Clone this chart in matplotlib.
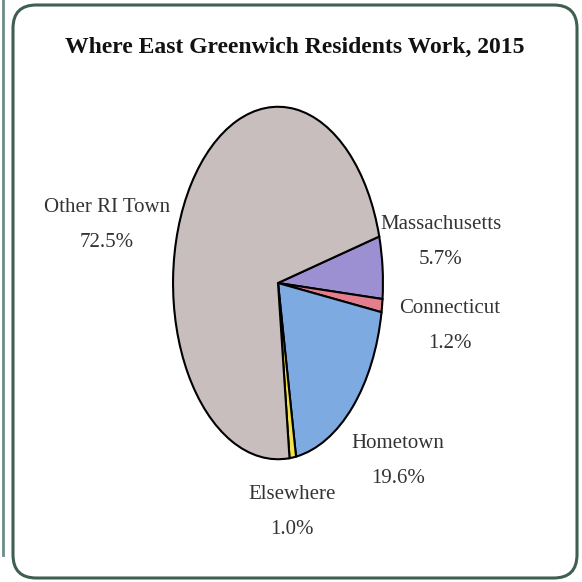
import matplotlib
matplotlib.use("Agg")
import matplotlib.pyplot as plt
from matplotlib.patches import FancyBboxPatch
from matplotlib.lines import Line2D

# data, clockwise from Massachusetts
names = ["Massachusetts", "Connecticut", "Hometown", "Elsewhere", "Other RI Town"]
shares = [5.7, 1.2, 19.6, 1.0, 72.5]
colors = ["#9c90d2", "#e47d8e", "#7eaae2", "#f2e24a", "#c9bebe"]

# label centres in pixels (x, y from top)
label_pos = [(441, 242), (450, 326), (398, 461), (292, 512), (107, 225)]

plt.rcParams['font.family'] = ['Liberation Serif', 'DejaVu Serif']

fig = plt.figure(figsize=(5.82, 5.82), dpi=100)
W = H = 582.0

# rounded green frame
frame = FancyBboxPatch((13 / W, 4 / H), 564 / W, 573 / H,
                       boxstyle="round,pad=0,rounding_size=0.04",
                       transform=fig.transFigure, facecolor="none",
                       edgecolor="#3f5f50", linewidth=2.2, zorder=5)
fig.patches.append(frame)
fig.lines.append(Line2D([2.5 / W, 2.5 / W], [1 - 555 / H, 1.0],
                        transform=fig.transFigure, color="#6d8c8a", lw=2))

# elliptical pie: axes box matches the ellipse
ax = fig.add_axes([172 / W, 1 - 461 / H, 212 / W, 356 / H])
ax.pie(shares, colors=colors, startangle=15.3, counterclock=False,
       wedgeprops=dict(edgecolor="black", linewidth=1.5))
ax.set_aspect('auto')
ax.set_xlim(-1.01, 1.01)
ax.set_ylim(-1.01, 1.01)
ax.axis('off')

fig.text(295 / W, 1 - 47 / H, "Where East Greenwich Residents Work, 2015",
         ha='center', va='center', fontsize=17, fontweight='bold',
         color="#111111")

for name, val, (px, py) in zip(names, shares, label_pos):
    fig.text(px / W, 1 - py / H, f"{name}\n{val:.1f}%", ha='center',
             va='center', fontsize=15, color="#333333", linespacing=2.2)

fig.savefig("out.png", dpi=100)
